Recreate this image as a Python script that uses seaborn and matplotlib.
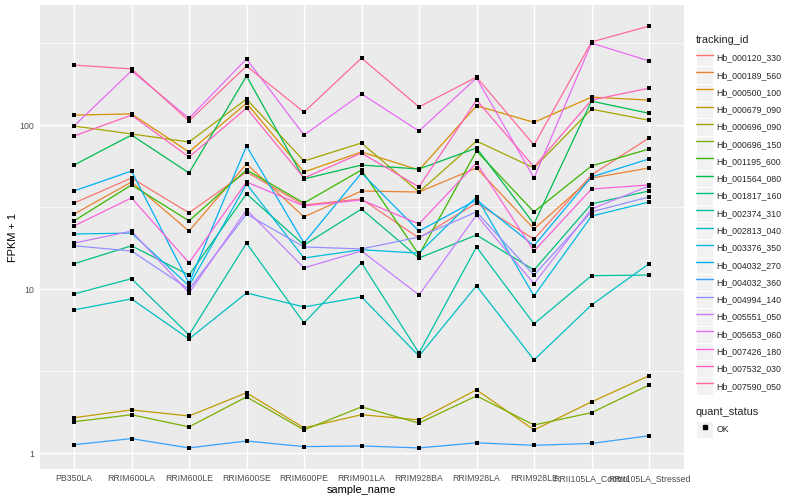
import math
import numpy as np
import pandas as pd
import matplotlib
matplotlib.use("Agg")
import matplotlib.pyplot as plt
import seaborn as sns
from matplotlib.lines import Line2D
from matplotlib.patches import Rectangle
from matplotlib.legend_handler import HandlerLine2D
from matplotlib.ticker import FixedLocator, NullFormatter

# ---------------- data ----------------
samples = ["PB350LA", "RRIM600LA", "RRIM600LE", "RRIM600SE", "RRIM600PE",
           "RRIM901LA", "RRIM928BA", "RRIM928LA", "RRIM928LE",
           "RRII105LA_Control", "RRII105LA_Stressed"]

tracking_ids = ["Hb_000120_330", "Hb_000189_560", "Hb_000500_100", "Hb_000679_090",
                "Hb_000696_090", "Hb_000696_150", "Hb_001195_600", "Hb_001564_080",
                "Hb_001817_160", "Hb_002374_310", "Hb_002813_040", "Hb_003376_350",
                "Hb_004032_270", "Hb_004032_360", "Hb_004994_140", "Hb_005551_050",
                "Hb_005653_060", "Hb_007426_180", "Hb_007532_030", "Hb_007590_050"]

# FPKM + 1 per sample (same order as samples)
hb_000120_330 = [33.5, 47.6, 29.2, 51.8, 32.6, 35.5, 20.5, 33.5, 20.2, 49.7, 83.5]
hb_000189_560 = [28.7, 45.0, 22.6, 58.0, 27.6, 39.7, 39.1, 54.8, 23.3, 47.6, 54.8]
hb_000500_100 = [115, 117, 68.6, 136, 51.8, 68.6, 53.3, 131, 104, 148, 142]
hb_000679_090 = [1.65, 1.84, 1.69, 2.34, 1.43, 1.72, 1.60, 2.44, 1.39, 2.06, 2.97]
hb_000696_090 = [98.7, 88.3, 78.9, 144, 60.4, 77.8, 39.1, 80.0, 54.8, 125, 107]
hb_000696_150 = [1.56, 1.72, 1.45, 2.21, 1.39, 1.92, 1.53, 2.24, 1.49, 1.77, 2.61]
hb_001195_600 = [26.1, 43.2, 26.1, 53.3, 33.5, 53.3, 16.2, 69.5, 29.6, 56.4, 71.5]
hb_001564_080 = [57.1, 87.0, 51.1, 199, 47.0, 57.1, 54.0, 72.5, 25.0, 140, 118]
hb_001817_160 = [14.3, 18.4, 12.2, 38.1, 18.6, 30.8, 15.5, 21.4, 13.1, 33.1, 39.7]
hb_002374_310 = [9.36, 11.6, 5.27, 19.1, 6.23, 14.5, 4.09, 18.1, 6.15, 12.1, 12.2]
hb_002813_040 = [7.48, 8.73, 4.98, 9.49, 7.80, 8.98, 3.92, 10.5, 3.71, 8.02, 14.3]
hb_003376_350 = [21.7, 22.0, 10.5, 43.8, 15.5, 17.4, 16.6, 36.5, 9.10, 27.9, 34.0]
hb_004032_270 = [39.7, 52.5, 10.9, 74.6, 19.1, 51.1, 22.6, 35.0, 18.4, 48.3, 62.2]
hb_004032_360 = [1.13, 1.23, 1.08, 1.19, 1.10, 1.11, 1.08, 1.16, 1.12, 1.15, 1.28]
hb_004994_140 = [18.4, 17.1, 10.0, 28.7, 18.1, 17.6, 20.8, 29.6, 12.2, 29.6, 36.5]
hb_005551_050 = [19.1, 22.6, 9.49, 30.4, 13.5, 17.1, 9.23, 28.3, 10.8, 30.8, 42.6]
hb_005653_060 = [98.7, 214, 110, 253, 87.0, 155, 92.0, 194, 47.6, 316, 246]
hb_007426_180 = [24.3, 36.0, 14.5, 45.0, 32.2, 35.0, 25.0, 58.8, 17.1, 40.8, 43.2]
hb_007532_030 = [85.8, 115, 63.9, 127, 47.6, 67.6, 42.0, 142, 55.6, 142, 168]
hb_007590_050 = [232, 220, 106, 229, 120, 256, 129, 196, 75.6, 321, 401]

series_values = [hb_000120_330, hb_000189_560, hb_000500_100, hb_000679_090,
                 hb_000696_090, hb_000696_150, hb_001195_600, hb_001564_080,
                 hb_001817_160, hb_002374_310, hb_002813_040, hb_003376_350,
                 hb_004032_270, hb_004032_360, hb_004994_140, hb_005551_050,
                 hb_005653_060, hb_007426_180, hb_007532_030, hb_007590_050]

quant_status = "OK"

# ---------------- ggplot hue palette ----------------
def hcl_hex(h, c=100.0, l=65.0):
    hr = math.radians(h)
    U, V, L = c * math.cos(hr), c * math.sin(hr), l
    Xn, Yn, Zn = 95.047, 100.0, 108.883
    un = 4 * Xn / (Xn + 15 * Yn + 3 * Zn)
    vn = 9 * Yn / (Xn + 15 * Yn + 3 * Zn)
    Y = Yn * ((L + 16) / 116) ** 3 if L > 8 else Yn * L / 903.3
    u = U / (13 * L) + un
    v = V / (13 * L) + vn
    X = Y * 9 * u / (4 * v)
    Z = Y * (12 - 3 * u - 20 * v) / (4 * v)
    X, Y, Z = X / 100, Y / 100, Z / 100
    r = 3.240479 * X - 1.537150 * Y - 0.498535 * Z
    g = -0.969256 * X + 1.875992 * Y + 0.041556 * Z
    b = 0.055648 * X - 0.204043 * Y + 1.057311 * Z
    def gam(t):
        t = 12.92 * t if t <= 0.0031308 else 1.055 * t ** (1 / 2.4) - 0.055
        return min(max(t, 0.0), 1.0)
    return "#%02X%02X%02X" % tuple(int(round(gam(t) * 255)) for t in (r, g, b))

n = len(tracking_ids)
palette = [hcl_hex(15 + 360 * i / n) for i in range(n)]

# ---------------- long data frame ----------------
rows = []
for tid, vals in zip(tracking_ids, series_values):
    for i, (s, v) in enumerate(zip(samples, vals)):
        rows.append({"sample_name": s, "pos": i, "tracking_id": tid,
                     "value": v, "quant_status": quant_status})
df = pd.DataFrame(rows)

# ---------------- figure ----------------
sns.set_theme(style="white")
plt.rcParams["font.family"] = ["Liberation Sans", "DejaVu Sans"]

fig = plt.figure(figsize=(8, 5), dpi=100)
W, H = 800, 500
ax = fig.add_axes([39.5 / W, 1 - 469 / H, (683.5 - 39.5) / W, (469 - 5) / H])
ax.set_facecolor("#EBEBEB")

sns.lineplot(data=df, x="pos", y="value", hue="tracking_id", hue_order=tracking_ids,
             palette=palette, estimator=None, units="tracking_id", linewidth=0.9,
             legend=False, ax=ax, zorder=2)
sns.scatterplot(data=df, x="pos", y="value", color="black", marker="s", s=10,
                linewidth=0, legend=False, ax=ax, zorder=3)

ax.set_yscale("log")
lv = np.log10(df["value"].to_numpy())
span = lv.max() - lv.min()
ax.set_ylim(10 ** (lv.min() - 0.05 * span), 10 ** (lv.max() + 0.05 * span))
ax.set_xlim(-0.6, len(samples) - 1 + 0.6)

ax.set_xticks(range(len(samples)))
ax.set_xticklabels(samples)
ax.yaxis.set_major_locator(FixedLocator([1, 10, 100]))
ax.set_yticklabels(["1", "10", "100"])
ax.yaxis.set_minor_locator(FixedLocator([10 ** 0.5, 10 ** 1.5, 10 ** 2.5]))
ax.yaxis.set_minor_formatter(NullFormatter())

ax.grid(which="major", color="white", linewidth=1.0)
ax.grid(which="minor", axis="y", color="white", linewidth=0.5)
ax.set_axisbelow(True)
for sp in ax.spines.values():
    sp.set_visible(False)

ax.tick_params(axis="both", which="major", length=2.0, width=0.75, color="#333333",
               labelsize=6.3, labelcolor="#4D4D4D", pad=1.6)
ax.tick_params(axis="y", which="minor", length=0)
ax.set_xlabel("sample_name", fontsize=7.9, color="black", labelpad=1.5)
ax.set_ylabel("FPKM + 1", fontsize=7.9, color="black", labelpad=1.0)

# ---------------- legends ----------------
class KeyHandler(HandlerLine2D):
    def create_artists(self, legend, orig_handle, xdescent, ydescent, width,
                       height, fontsize, trans):
        bg = Rectangle((-xdescent, -ydescent), width, height, facecolor="#F2F2F2",
                       edgecolor="white", linewidth=0.8, transform=trans)
        arts = super().create_artists(legend, orig_handle, xdescent, ydescent,
                                      width, height, fontsize, trans)
        return [bg] + arts

line_handles = [Line2D([], [], color=c, linewidth=1.0) for c in palette]
fs = 6.3
key_w = 17.28 / (fs * 100 / 72)
key_h = (key_w - 0.245) / 0.65
common = dict(loc="upper left", frameon=False, fontsize=fs, title_fontsize=7.9,
              handler_map={Line2D: KeyHandler()}, handlelength=key_w,
              handleheight=key_h, labelspacing=0.0, handletextpad=0.35,
              borderpad=0, borderaxespad=0, alignment="left")
leg1 = fig.legend(line_handles, tracking_ids, title="tracking_id",
                  bbox_to_anchor=(696 / W, 1 - 35 / H), **common)
leg1._legend_box.sep = 3

pt_handle = Line2D([], [], color="black", marker="s", markersize=3.2, linestyle="none")
leg2 = fig.legend([pt_handle], [quant_status], title="quant_status",
                  bbox_to_anchor=(696 / W, 1 - 407 / H), **common)
leg2._legend_box.sep = 3

fig.savefig("out.png", dpi=100, facecolor="white")
